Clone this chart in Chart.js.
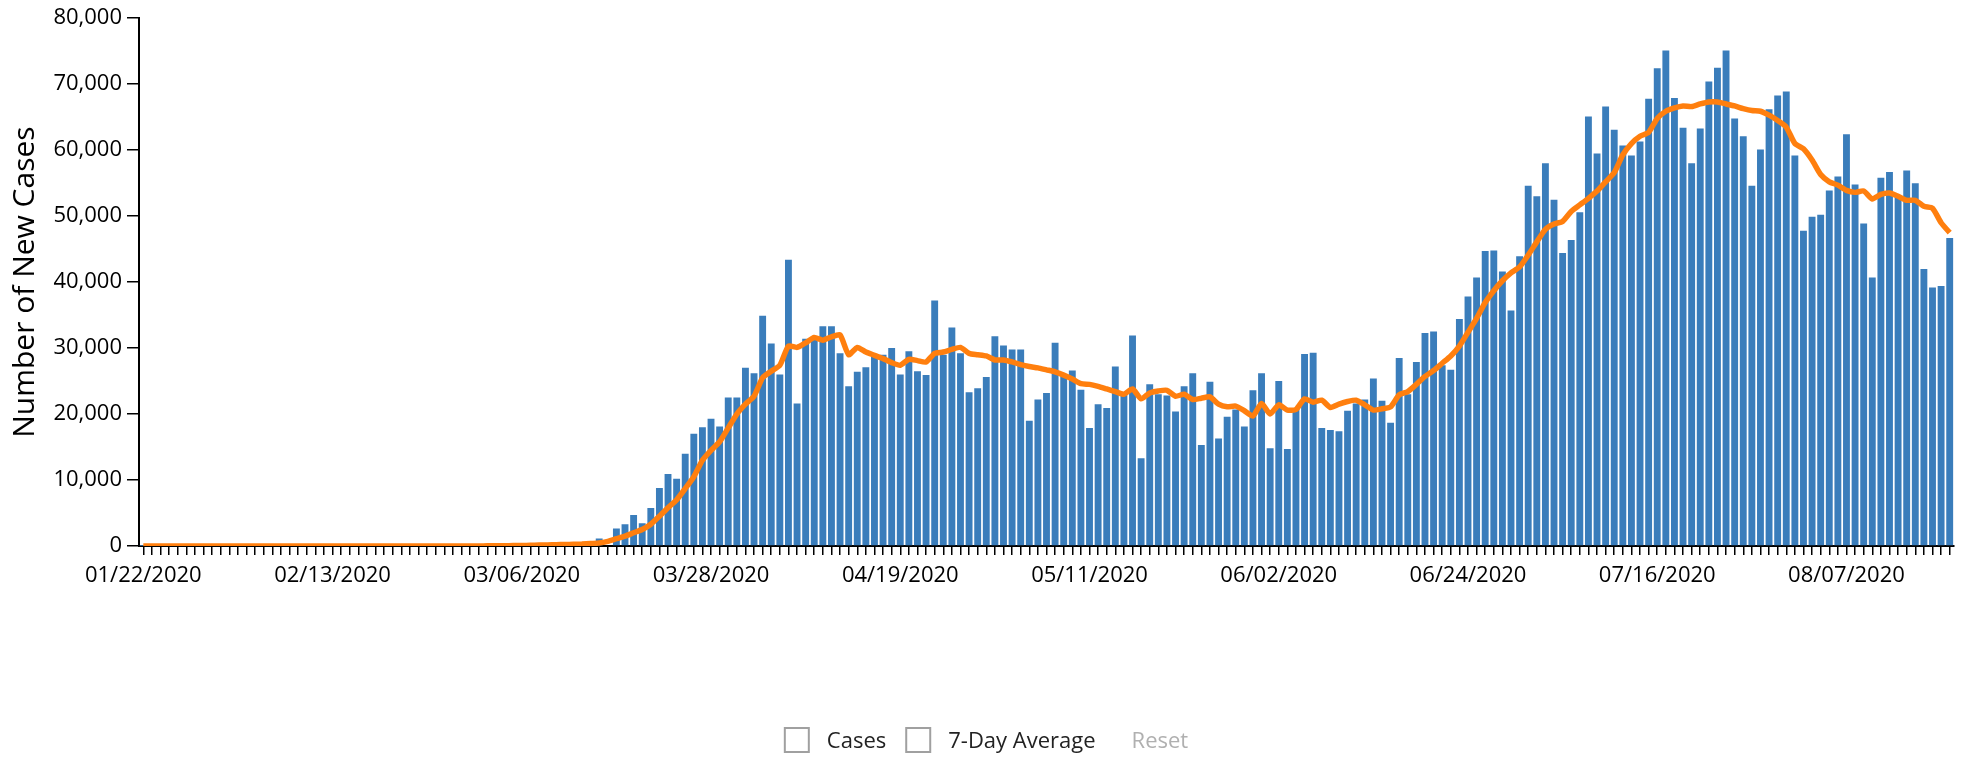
<!DOCTYPE html>
<html>
<head>
	<meta charset="utf-8">
	<title>New Cases</title>
	<style>
		body { margin: 0; background: #fff; }
		#wrap { width: 1973px; height: 763px; }
	</style>
</head>
<body>
	<div id="wrap"><canvas id="myChart" width="1973" height="763"></canvas></div>
	<script type="text/javascript" src="https://cdn.jsdelivr.net/npm/chart.js@4.4.0/dist/chart.umd.min.js"></script>
	<script type="text/javascript">
		// daily new cases, one value per day starting 01/22/2020
		const cases = [
			1, 0, 0, 1, 0, 0, 0, 0, 1, 0,
			0, 1, 0, 0, 0, 0, 0, 0, 0, 0,
			0, 0, 0, 1, 0, 0, 0, 0, 0, 0,
			0, 0, 0, 0, 0, 0, 0, 0, 0, 3,
			5, 12, 15, 25, 30, 60, 90, 110, 160, 230,
			280, 350, 420, 1150, 0, 2650, 3300, 4700, 3450, 5750,
			8800, 10900, 10200, 14000, 17000, 18000, 19300, 18100, 22500, 22500,
			27000, 26200, 34900, 30700, 26000, 43400, 21600, 31400, 31700, 33300,
			33300, 29200, 24200, 26400, 27100, 28800, 29000, 30000, 26000, 29500,
			26500, 25900, 37200, 29000, 33100, 29200, 23300, 23900, 25600, 31800,
			30400, 29800, 29800, 19000, 22200, 23200, 30800, 25800, 26600, 23700,
			17900, 21500, 20900, 27200, 23000, 31900, 13300, 24500, 23000, 22800,
			20400, 24200, 26200, 15300, 24900, 16300, 19600, 20700, 18100, 23600,
			26200, 14800, 25000, 14700, 20800, 29100, 29300, 17900, 17600, 17400,
			20500, 21600, 22200, 25400, 22000, 18700, 28500, 23000, 27900, 32300,
			32500, 27400, 26700, 34400, 37800, 40700, 44700, 44800, 41600, 35700,
			43900, 54600, 53000, 58000, 52500, 44400, 46400, 50600, 65100, 59500,
			66600, 63100, 60700, 59200, 61300, 67800, 72400, 75100, 67900, 63400,
			58000, 63300, 70400, 72500, 75100, 64800, 62100, 54600, 60100, 66200,
			68300, 68900, 59200, 47800, 49900, 50200, 53900, 56000, 62400, 54800,
			48900, 40700, 55800, 56700, 53000, 56900, 55000, 42000, 39200, 39400,
			46700
		];

		// 7-day average
		const average = [
			0, 0, 0, 0, 0, 0, 0, 0, 0, 0,
			0, 0, 0, 0, 0, 0, 0, 0, 0, 0,
			0, 0, 0, 0, 0, 0, 0, 0, 0, 0,
			0, 0, 0, 0, 0, 0, 0, 0, 0, 0,
			20, 30, 40, 60, 80, 110, 140, 170, 200, 230,
			260, 300, 380, 450, 700, 1100, 1500, 2000, 2500, 3300,
			4500, 5800, 7000, 8700, 10500, 13000, 14500, 15800, 17900, 20000,
			21500, 22700, 25500, 26500, 27400, 30300, 30100, 30800, 31600, 31200,
			31700, 32000, 29000, 30100, 29400, 28900, 28400, 27800, 27400, 28300,
			28100, 27900, 29200, 29400, 29800, 30100, 29200, 29000, 28800, 28200,
			28200, 27900, 27500, 27200, 27000, 26700, 26400, 25900, 25300, 24600,
			24500, 24200, 23800, 23400, 23000, 23800, 22300, 23200, 23500, 23600,
			22700, 23000, 22200, 22400, 22600, 21500, 21100, 21200, 20500, 19700,
			21600, 20000, 21400, 20600, 20700, 22300, 21800, 22100, 21000, 21500,
			21900, 22100, 21400, 20600, 20800, 21100, 22900, 23400, 24500, 25700,
			26600, 27700, 28800, 30300, 32400, 34500, 36900, 38700, 40200, 41400,
			42300, 44100, 46100, 48000, 48800, 49200, 50700, 51700, 52700, 53800,
			55200, 56600, 59300, 61000, 62100, 62700, 64800, 65900, 66400, 66700,
			66600, 67000, 67300, 67300, 67000, 66700, 66300, 66000, 65900, 65300,
			64500, 63500, 61000, 60200, 58500, 56300, 55200, 54700, 53900, 53600,
			53800, 52600, 53300, 53500, 53000, 52400, 52400, 51500, 51200, 49000,
			47500
		];

		const tickLabels = ["01/22/2020", "02/13/2020", "03/06/2020", "03/28/2020", "04/19/2020",
			"05/11/2020", "06/02/2020", "06/24/2020", "07/16/2020", "08/07/2020"];
		const legendNames = ["Cases", "7-Day Average"];
		const resetLabel = "Reset";

		function pad(n) {
			return n < 10 ? "0" + n : "" + n;
		}

		// one category per day
		let dates = [];
		for (let x = 0; x < cases.length; ++x) {
			let d = new Date(2020, 0, 22 + x);
			dates.push(pad(d.getMonth() + 1) + "/" + pad(d.getDate()) + "/" + d.getFullYear());
		}

		const font = "'Open Sans', 'Noto Sans', sans-serif";

		// checkbox style legend under the chart, with the greyed Reset link
		const checkboxLegend = {
			id: "checkboxLegend",
			afterDraw(chart) {
				let c = chart.ctx;
				c.save();
				c.font = "22px " + font;
				c.textBaseline = "middle";
				let box = 24, boxGap = 18, itemGap = 20, resetGap = 36;
				let widths = legendNames.map((t) => c.measureText(t).width);
				let resetW = c.measureText(resetLabel).width;
				let total = 0;
				widths.forEach((w) => total += box + boxGap + w);
				total += itemGap * (legendNames.length - 1) + resetGap + resetW;
				let x = chart.width / 2 - total / 2;
				let cy = 740;
				legendNames.forEach((t, i) => {
					c.fillStyle = "#fff";
					c.fillRect(x, cy - box / 2, box, box);
					c.strokeStyle = "#a0a0a0";
					c.lineWidth = 2;
					c.strokeRect(x, cy - box / 2, box, box);
					c.fillStyle = "#222";
					c.fillText(t, x + box + boxGap, cy + 2);
					x += box + boxGap + widths[i] + itemGap;
				});
				x += resetGap - itemGap;
				c.fillStyle = "#b0b0b0";
				c.fillText(resetLabel, x, cy + 2);
				c.restore();
			},
		};

		let ctx = document.getElementById("myChart").getContext("2d");
		let myChart = new Chart(ctx, {
			type: "bar",
			data: {
				labels: dates,
				datasets: [
					{
						type: "line",
						label: "7-Day Average",
						data: average,
						borderColor: "#ff7f0e",
						backgroundColor: "#ff7f0e",
						borderWidth: 5.5,
						pointRadius: 0,
						tension: 0.2,
						order: 0,
					},
					{
						label: "Cases",
						data: cases,
						backgroundColor: "#3a7dbb",
						barPercentage: 0.8,
						categoryPercentage: 1,
						order: 1,
					},
				],
			},
			plugins: [checkboxLegend],
			options: {
				responsive: false,
				animation: false,
				devicePixelRatio: 1,
				layout: { padding: { left: 0, right: 19, top: 18, bottom: 45 } },
				plugins: {
					tooltip: { enabled: false },
					legend: { display: false },
				},
				scales: {
					x: {
						afterFit: function(s) { s.height = 172; },
						grid: {
							display: true,
							offset: false,
							drawOnChartArea: false,
							drawTicks: true,
							tickLength: 9,
							color: "#000",
							lineWidth: 1.5,
						},
						border: { display: true, color: "#000", width: 2 },
						ticks: {
							autoSkip: false,
							maxRotation: 0,
							minRotation: 0,
							padding: 8,
							color: "#000",
							font: { family: font, size: 22 },
							callback: function(value) {
								let l = this.getLabelForValue(value);
								return tickLabels.includes(l) ? l : "";
							},
						},
					},
					y: {
						min: 0,
						max: 80000,
						afterFit: function(s) { s.width = 139; },
						grid: {
							drawOnChartArea: false,
							drawTicks: true,
							tickLength: 12,
							color: "#000",
							lineWidth: 1.5,
						},
						border: { display: true, color: "#000", width: 2 },
						ticks: {
							stepSize: 10000,
							padding: 5,
							color: "#000",
							font: { family: font, size: 22 },
							callback: (v) => v.toLocaleString("en-US"),
						},
						title: {
							display: true,
							text: "Number of New Cases",
							color: "#000",
							font: { family: font, size: 30 },
							padding: { top: 7, bottom: 0 },
						},
					},
				},
			},
		});
	</script>
</body>
</html>
